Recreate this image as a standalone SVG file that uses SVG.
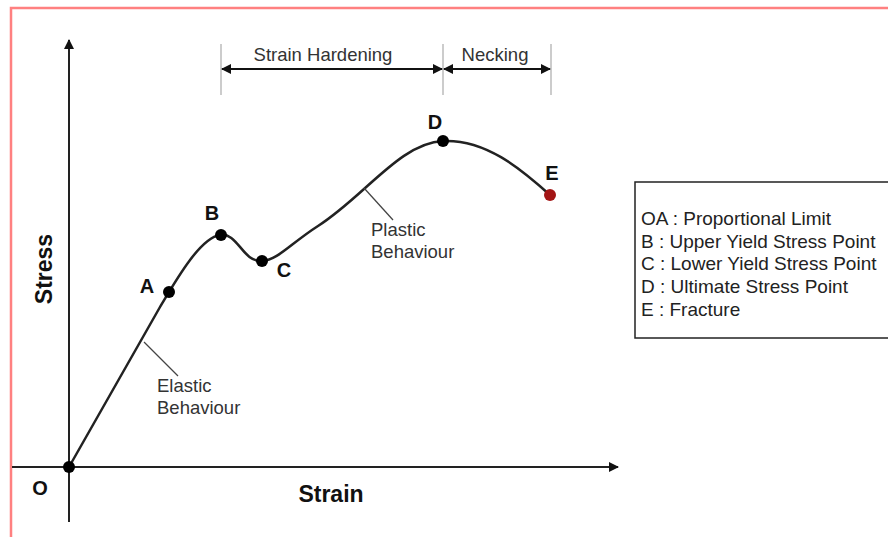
<svg xmlns="http://www.w3.org/2000/svg" width="888" height="537" viewBox="0 0 888 537">
<defs>
<style>
.ax{stroke:#222;stroke-width:2;fill:none}
.dim{stroke:#bbb;stroke-width:1.5}
.dl{stroke:#111;stroke-width:2;fill:none}
.curve{stroke:#222;stroke-width:2.5;fill:none}
.lead{stroke:#444;stroke-width:1.3}
.pt{fill:#000}
.lbl{font-family:"Liberation Sans",Arial,sans-serif;font-weight:bold;font-size:20px;fill:#111}
.big{font-size:23px}
.t{font-family:"Liberation Sans",Arial,sans-serif;font-size:18.5px;fill:#333}
.lg{font-family:"Liberation Sans",Arial,sans-serif;font-size:19px;fill:#222}
</style>
<marker id="ah2" viewBox="0 0 10 10" refX="9" refY="5" markerWidth="12" markerHeight="10" markerUnits="userSpaceOnUse" orient="auto-start-reverse">
<path d="M0,0 L10,5 L0,10 z" fill="#111"/>
</marker>
</defs>
<rect width="888" height="537" fill="#fff"/>
<path d="M11,545 L11,8 L895,8" fill="none" stroke="#ff8080" stroke-width="2.5"/>
<g id="axes">
<line class="ax" x1="69" y1="522" x2="69" y2="40" marker-end="url(#ah2)"/>
<line class="ax" x1="12" y1="467" x2="618" y2="467" marker-end="url(#ah2)"/>
<text class="lbl big" x="44" y="269" text-anchor="middle" transform="rotate(-90 44 269)" dy="8">Stress</text>
<text class="lbl big" x="331" y="502" text-anchor="middle">Strain</text>
</g>
<g id="dimensions">
<line class="dim" x1="221" y1="44" x2="221" y2="95"/>
<line class="dim" x1="443" y1="44" x2="443" y2="95"/>
<line class="dim" x1="551" y1="44" x2="551" y2="95"/>
<line class="dl" x1="222" y1="69" x2="442" y2="69" marker-start="url(#ah2)" marker-end="url(#ah2)"/>
<line class="dl" x1="444" y1="69" x2="550" y2="69" marker-start="url(#ah2)" marker-end="url(#ah2)"/>
<text class="t" x="323" y="61" text-anchor="middle">Strain Hardening</text>
<text class="t" x="495" y="61" text-anchor="middle">Necking</text>
</g>
<g id="connectors">
<path class="curve" d="M69,467 L160,307 C176,280 200,238 220,235 C238,232 242,262 262,261 C278,260 290,244 318,226 C365,196 400,143 443,141 C485,139 520,168 550,195"/>
<line class="lead" x1="144" y1="342" x2="178" y2="376"/>
<line class="lead" x1="364" y1="188" x2="393" y2="220"/>
</g>
<g id="point-O"><circle class="pt" cx="69" cy="467" r="6"/><text class="lbl" x="40" y="495" text-anchor="middle">O</text></g>
<g id="point-A"><circle class="pt" cx="169" cy="292" r="6"/><text class="lbl" x="147" y="293" text-anchor="middle">A</text></g>
<g id="point-B"><circle class="pt" cx="221" cy="235" r="6"/><text class="lbl" x="212" y="220" text-anchor="middle">B</text></g>
<g id="point-C"><circle class="pt" cx="262" cy="261" r="6"/><text class="lbl" x="284" y="277" text-anchor="middle">C</text></g>
<g id="point-D"><circle class="pt" cx="443" cy="141" r="6"/><text class="lbl" x="435" y="129" text-anchor="middle">D</text></g>
<g id="point-E"><circle cx="550" cy="195" r="6" fill="#a31515"/><text class="lbl" x="552" y="180" text-anchor="middle">E</text></g>
<g id="elastic-label"><text class="t" x="157" y="392">Elastic</text><text class="t" x="157" y="414">Behaviour</text></g>
<g id="plastic-label"><text class="t" x="371" y="236">Plastic</text><text class="t" x="371" y="258">Behaviour</text></g>
<g id="legend">
<rect x="635" y="182" width="260" height="156" fill="#fff" stroke="#222" stroke-width="1.5"/>
<text class="lg" x="641" y="225">OA : Proportional Limit</text>
<text class="lg" x="641" y="248">B : Upper Yield Stress Point</text>
<text class="lg" x="641" y="270">C : Lower Yield Stress Point</text>
<text class="lg" x="641" y="293">D : Ultimate Stress Point</text>
<text class="lg" x="641" y="316">E : Fracture</text>
</g>
</svg>
